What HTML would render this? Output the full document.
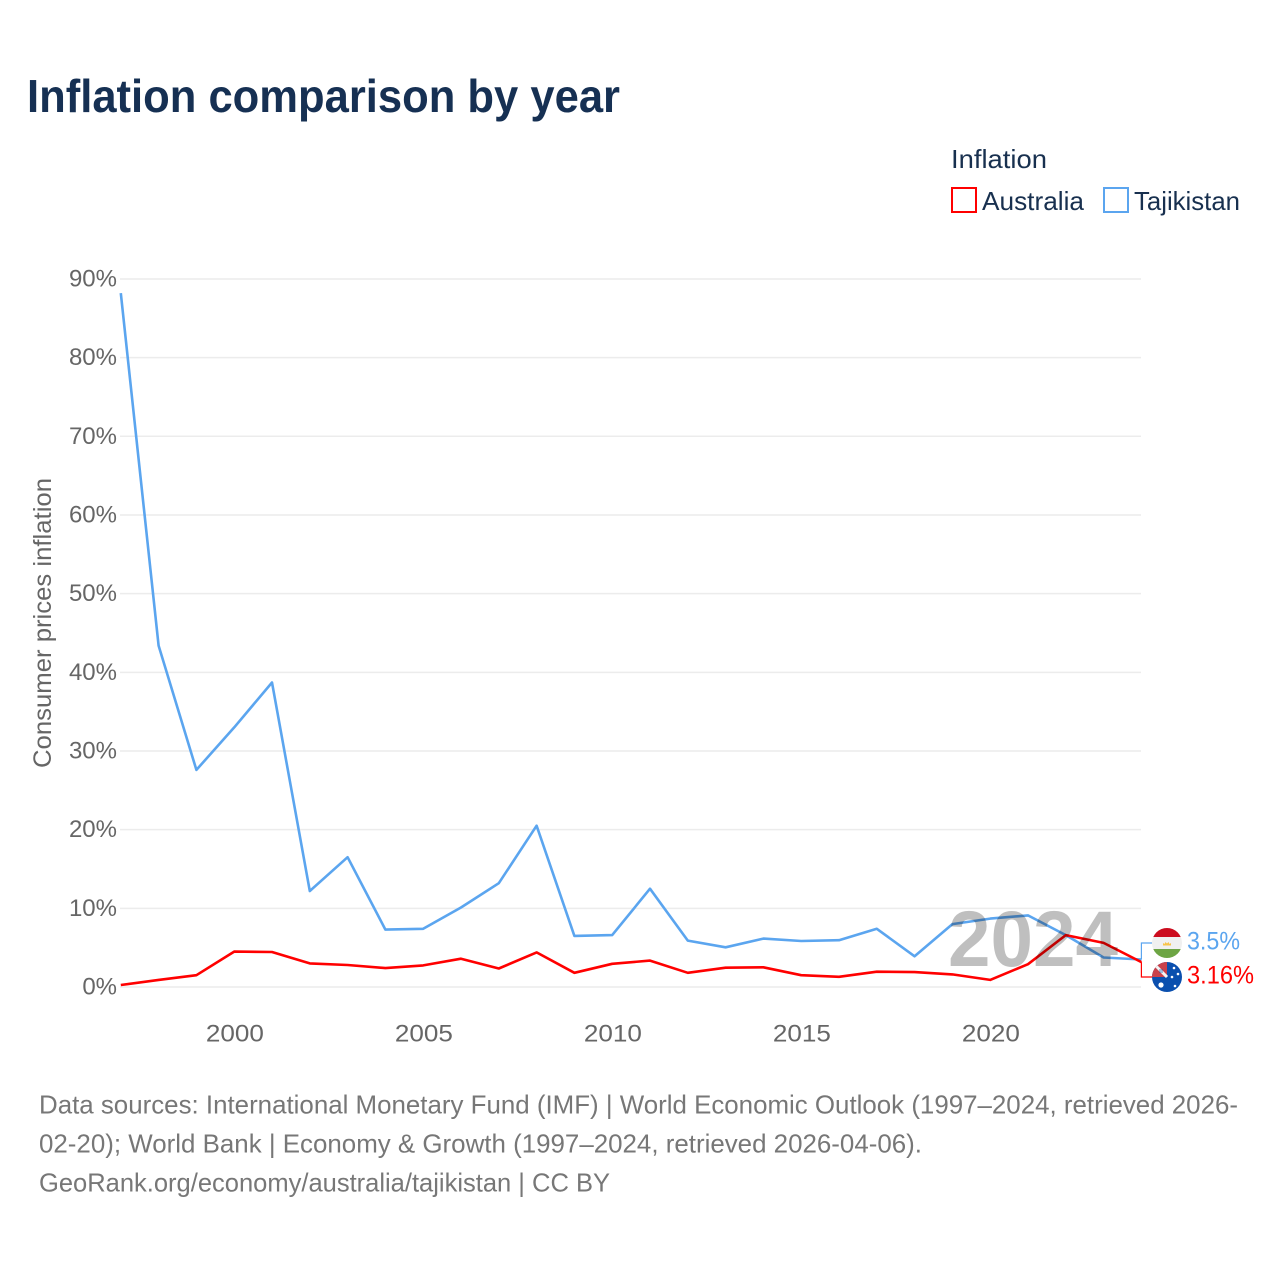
<!DOCTYPE html>
<html lang="en">
<head>
<meta charset="utf-8">
<title>Inflation comparison by year</title>
<style>
html,body{margin:0;padding:0;background:#fff;width:1280px;height:1280px;overflow:hidden}
svg{display:block}
text{font-family:"Liberation Sans",sans-serif}
</style>
</head>
<body>
<svg id="chart" xmlns="http://www.w3.org/2000/svg" width="1280" height="1280" viewBox="0 0 1280 1280">
  <defs>
    <clipPath id="clip-tj"><circle cx="1167" cy="943" r="15"/></clipPath>
    <clipPath id="clip-au"><circle cx="1167" cy="977" r="15"/></clipPath>
  </defs>
  <rect width="1280" height="1280" fill="#fff"/>
  <text x="27" y="112" font-size="46" font-weight="700" fill="#163053" textLength="593" lengthAdjust="spacingAndGlyphs">Inflation comparison by year</text>

  <g>
    <text x="951" y="168" font-size="26" fill="#18304f" textLength="96" lengthAdjust="spacingAndGlyphs">Inflation</text>
    <g>
      <rect x="952" y="188" width="24" height="24" fill="none" stroke="#ff0000" stroke-width="2"/>
      <text x="982" y="210" font-size="26" fill="#18304f" textLength="102" lengthAdjust="spacingAndGlyphs">Australia</text>
    </g>
    <g>
      <rect x="1104" y="188" width="24" height="24" fill="none" stroke="#5ba5ef" stroke-width="2"/>
      <text x="1134" y="210" font-size="26" fill="#18304f" textLength="106" lengthAdjust="spacingAndGlyphs">Tajikistan</text>
    </g>
  </g>

  <text transform="translate(51,768) rotate(-90)" x="0" y="0" font-size="25" fill="#666" textLength="290" lengthAdjust="spacingAndGlyphs">Consumer prices inflation</text>

  <g id="grid"></g>
  <g id="yticks"></g>
  <g id="xticks"></g>
  <g id="series"></g>

  <text id="year-watermark" x="948" y="966" font-size="79" font-weight="700" fill="#000" fill-opacity="0.25" textLength="170" lengthAdjust="spacingAndGlyphs">2024</text>

  <g id="callouts"></g>

  <g clip-path="url(#clip-tj)">
    <rect x="1152" y="928" width="30" height="30" fill="#f0f0f0"/>
    <rect x="1152" y="928" width="30" height="9" fill="#cc0c1e"/>
    <rect x="1152" y="949" width="30" height="9" fill="#6da544"/>
    <path d="M1163 945.500h8v-2.500l-1.500 1-1-2-1.500 1.500-1.500-1.500-1 2-1.500-1z" fill="#f8c44a"/>
  </g>
  <g clip-path="url(#clip-au)">
    <rect x="1152" y="962" width="30" height="30" fill="#0a4fae"/>
    <rect x="1152" y="962" width="15" height="15" fill="#c9414a"/>
    <path d="M1156 966l11 11" stroke="#f4f4f4" stroke-width="3"/>
    <rect x="1159" y="969" width="4" height="4" fill="#0a4fae" opacity="0.35"/>
    <circle cx="1161" cy="985" r="2.600" fill="#fff"/>
    <circle cx="1174" cy="968" r="1.300" fill="#fff"/>
    <circle cx="1178" cy="974" r="1.300" fill="#fff"/>
    <circle cx="1172" cy="977" r="1.300" fill="#fff"/>
    <circle cx="1175" cy="986" r="1.300" fill="#fff"/>
  </g>

  <g font-size="26" fill="#777">
    <text x="39" y="1113.500" textLength="1199" lengthAdjust="spacingAndGlyphs">Data sources: International Monetary Fund (IMF) | World Economic Outlook (1997–2024, retrieved 2026-</text>
    <text x="39" y="1152.500" textLength="883" lengthAdjust="spacingAndGlyphs">02-20); World Bank | Economy &amp; Growth (1997–2024, retrieved 2026-04-06).</text>
    <text x="39" y="1191.500" textLength="571" lengthAdjust="spacingAndGlyphs">GeoRank.org/economy/australia/tajikistan | CC BY</text>
  </g>
</svg>
<script>
const years = [1997,1998,1999,2000,2001,2002,2003,2004,2005,2006,2007,2008,2009,2010,2011,2012,2013,2014,2015,2016,2017,2018,2019,2020,2021,2022,2023,2024];
const australia = [0.25,0.9,1.5,4.5,4.45,3.0,2.8,2.4,2.75,3.6,2.35,4.4,1.8,2.95,3.35,1.8,2.45,2.5,1.5,1.3,1.95,1.9,1.6,0.9,2.9,6.6,5.6,3.16];
const tajikistan = [88.2,43.4,27.6,33.0,38.7,12.2,16.5,7.3,7.4,10.1,13.2,20.5,6.5,6.6,12.5,5.9,5.05,6.15,5.85,5.95,7.4,3.9,8.0,8.7,9.1,6.6,3.75,3.5];
const yTickValues = [0,10,20,30,40,50,60,70,80,90];
const xTickValues = [2000,2005,2010,2015,2020];

const SVG_NS = 'http://www.w3.org/2000/svg';
function xScale(year){ return 120.8 + (year - 1997) * 37.8; }
function yScale(v){ return 987 - v * 7.867; }
function make(tag, parent, attrs){
  const el = document.createElementNS(SVG_NS, tag);
  for (const k in attrs) el.setAttribute(k, attrs[k]);
  parent.appendChild(el);
  return el;
}
const grid = document.getElementById('grid');
const yticks = document.getElementById('yticks');
const xticks = document.getElementById('xticks');
const series = document.getElementById('series');
const callouts = document.getElementById('callouts');

yTickValues.forEach(function(v){
  const line = make('line', grid, {x1:120, x2:1141, y1:yScale(v), y2:yScale(v), stroke:'#ececec', 'stroke-width':1.5});
  
  
  const label = make('text', yticks, {x:117, y:yScale(v)+7.500, 'text-anchor':'end', 'font-size':24, fill:'#666'});
  label.textContent = v + '%';
  
  
});
xTickValues.forEach(function(y){
  const label = make('text', xticks, {x:xScale(y)+0.700, y:1041.500, 'text-anchor':'middle', 'font-size':24, fill:'#666', textLength:58, lengthAdjust:'spacingAndGlyphs'});
  label.textContent = String(y);
  
  
});
function pathFor(values){
  return values.map(function(v,i){ return (i ? 'L' : 'M') + xScale(years[i]).toFixed(1) + ' ' + yScale(v).toFixed(1); }).join('');
}
const tjLine = make('path', series, {d:pathFor(tajikistan), fill:'none', stroke:'#5ba5ef', 'stroke-width':2.6, 'stroke-linejoin':'round'});


const auLine = make('path', series, {d:pathFor(australia), fill:'none', stroke:'#ff0000', 'stroke-width':2.6, 'stroke-linejoin':'round'});



const lastX = xScale(years[years.length-1]);
const tjEnd = tajikistan[tajikistan.length-1];
const auEnd = australia[australia.length-1];
const tjConn = make('path', callouts, {d:'M'+lastX+' '+yScale(tjEnd)+'V943H1152', fill:'none', stroke:'#5ba5ef', 'stroke-width':1.2});


const auConn = make('path', callouts, {d:'M'+lastX+' '+yScale(auEnd)+'V977H1152', fill:'none', stroke:'#ff0000', 'stroke-width':1.2});


const tjVal = make('text', callouts, {x:1187, y:949.500, 'font-size':25, fill:'#5ba5ef', textLength:53, lengthAdjust:'spacingAndGlyphs'});
tjVal.textContent = tjEnd + '%';


const auVal = make('text', callouts, {x:1187, y:983.500, 'font-size':25, fill:'#ff0000', textLength:67, lengthAdjust:'spacingAndGlyphs'});
auVal.textContent = auEnd + '%';


</script>
</body>
</html>
